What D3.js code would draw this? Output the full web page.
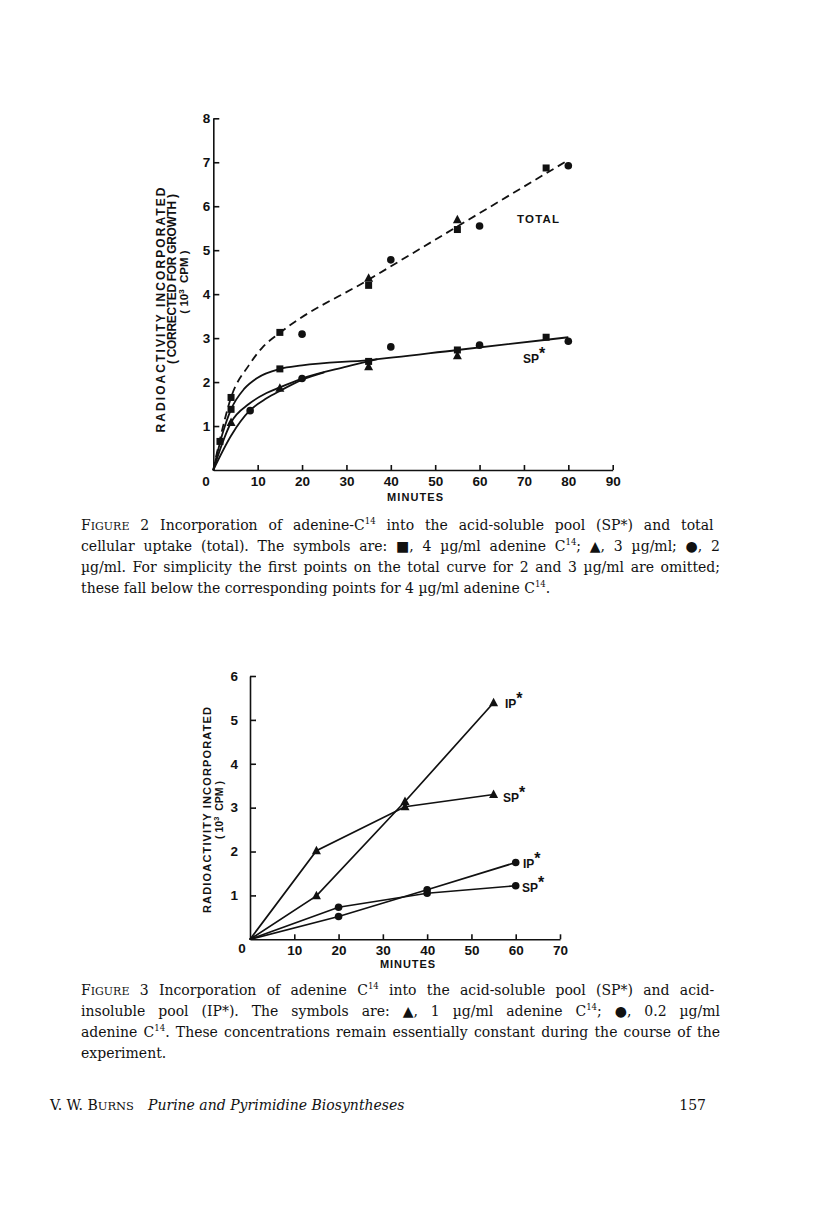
<!DOCTYPE html>
<html><head><meta charset="utf-8">
<script src="https://cdn.jsdelivr.net/npm/d3@7"></script>
<style>
body{margin:0;background:#fff}
text{fill:#111}
.chart text{font-family:"Liberation Sans",Arial,sans-serif;font-weight:bold}
.cap{font-family:"DejaVu Serif",serif;font-size:14px}
</style>
</head><body>
<svg id="page" width="816" height="1229" xmlns="http://www.w3.org/2000/svg"></svg>
<script>
// ---------------- Figure 2 data ----------------
const fig2XTicks = [10, 20, 30, 40, 50, 60, 70, 80, 90];
const fig2YTicks = [1, 2, 3, 4, 5, 6, 7, 8];
// markers: ■ 4 µg/ml, ▲ 3 µg/ml, ● 2 µg/ml
const sqTotalMin = [1.5, 4, 15, 35, 55, 75];
const sqTotalVal = [0.65, 1.65, 3.13, 4.2, 5.47, 6.87];
const sqSpMin = [4, 15, 35, 55, 75];
const sqSpVal = [1.38, 2.3, 2.47, 2.73, 3.02];
const triTotalMin = [35, 55];
const triTotalVal = [4.36, 5.69];
const triSpMin = [4, 15, 35, 55];
const triSpVal = [1.08, 1.86, 2.35, 2.6];
const cirTotalMin = [20, 40, 60, 80];
const cirTotalVal = [3.09, 4.78, 5.55, 6.92];
const cirSpMin = [8.3, 20, 40, 60, 80];
const cirSpVal = [1.35, 2.08, 2.8, 2.84, 2.93];
// hand-drawn fitted curves (knots)
const totalCurveMin = [0, 1.5, 4, 8, 11, 15, 35, 55, 80];
const totalCurveVal = [0, 0.7, 1.65, 2.38, 2.78, 3.12, 4.33, 5.54, 7.05];
const spSqCurveMin = [0, 2, 4, 7, 10, 15, 20, 35, 55, 80];
const spSqCurveVal = [0, 0.8, 1.38, 1.85, 2.1, 2.3, 2.38, 2.5, 2.73, 3.02];
const spTriCurveMin = [0, 2, 4, 8, 12, 15, 20, 30, 37];
const spTriCurveVal = [0, 0.6, 1.08, 1.5, 1.75, 1.88, 2.08, 2.35, 2.52];
const spCirCurveMin = [0, 4, 8.3, 12, 15, 20, 25];
const spCirCurveVal = [0, 0.78, 1.36, 1.63, 1.8, 2.05, 2.22];

// ---------------- Figure 3 data ----------------
const fig3XTicks = [10, 20, 30, 40, 50, 60, 70];
const fig3YTicks = [1, 2, 3, 4, 5, 6];
const triIpMin = [0, 15, 35, 55];
const triIpVal = [0, 0.99, 3.14, 5.39];
const triSp3Min = [0, 15, 35, 55];
const triSp3Val = [0, 2.02, 3.02, 3.3];
const cirIpMin = [0, 20, 40, 60];
const cirIpVal = [0, 0.52, 1.13, 1.75];
const cirSp3Min = [0, 20, 40, 60];
const cirSp3Val = [0, 0.73, 1.05, 1.22];

// ---------------- Captions ----------------
const cap2Lines = [
  [["F"],["IGURE","sc"],[" 2  Incorporation of adenine-C"],["14","sup"],[" into the acid-soluble pool (SP*) and total"]],
  [["cellular uptake (total). The symbols are: ■, 4 µg/ml adenine C"],["14","sup"],["; ▲, 3 µg/ml; ●, 2"]],
  [["µg/ml. For simplicity the first points on the total curve for 2 and 3 µg/ml are omitted;"]],
  [["these fall below the corresponding points for 4 µg/ml adenine C"],["14","sup"],["."]]
];
const cap3Lines = [
  [["F"],["IGURE","sc"],[" 3  Incorporation of adenine C"],["14","sup"],[" into the acid-soluble pool (SP*) and acid-"]],
  [["insoluble pool (IP*). The symbols are: ▲, 1 µg/ml adenine C"],["14","sup"],["; ●, 0.2 µg/ml"]],
  [["adenine C"],["14","sup"],[". These concentrations remain essentially constant during the course of the"]],
  [["experiment."]]
];

const svg = d3.select("#page");
const chart = svg.append("g").attr("class","chart");

function zip(a,b){return a.map((v,i)=>[v,b[i]]);}

function drawAxes(g, x, y, xt, yt, ylabPad){
  const ax = g.append("g").attr("transform",`translate(0,${y.range()[0]})`)
    .call(d3.axisBottom(x).tickValues(xt).tickSizeInner(-5).tickSizeOuter(0).tickPadding(6).tickFormat(d3.format("d")));
  const ay = g.append("g").attr("transform",`translate(${x.range()[0]},0)`)
    .call(d3.axisLeft(y).tickValues(yt).tickSizeInner(-6).tickSizeOuter(0).tickPadding(ylabPad).tickFormat(d3.format("d")));
  [ax,ay].forEach(a=>{
    a.selectAll("path,line").attr("stroke","#111").attr("stroke-width",1.6);
    a.selectAll("text").attr("font-size",13.5).attr("font-family","'Liberation Sans',Arial,sans-serif").attr("font-weight","bold").attr("fill","#111");
  });
  g.append("line").attr("x1",x.range()[0]-0.8).attr("x2",x.range()[0]+1).attr("y1",y.range()[0]).attr("y2",y.range()[0]).attr("stroke","#111").attr("stroke-width",1.6);
}

function marker(g, type, px, py){
  if(type==="sq") g.append("rect").attr("x",px-3.5).attr("y",py-3.5).attr("width",7).attr("height",7).attr("fill","#111");
  else if(type==="tri") g.append("path").attr("d",`M${px},${py-5}L${px+4.5},${py+3.5}L${px-4.5},${py+3.5}Z`).attr("fill","#111");
  else g.append("circle").attr("cx",px).attr("cy",py).attr("r",3.8).attr("fill","#111");
}

function starLabel(g, txt, px, py, fs){
  const t = g.append("text").attr("x",px).attr("y",py).attr("font-size",fs);
  t.append("tspan").text(txt);
  t.append("tspan").attr("dy",-4).attr("font-size",fs+4).text("*");
}

function rotLabel(g, cx, cy, fs, len, parts){
  const t = g.append("text").attr("transform",`translate(${cx},${cy}) rotate(-90)`).attr("text-anchor","middle").attr("font-size",fs);
  parts.forEach(([s,k])=>{
    const ts = t.append("tspan").text(s);
    if(k==="sup") ts.attr("dy",-4).attr("font-size",fs*0.7);
    else if(k==="down") ts.attr("dy",4);
  });
  if(len) t.attr("textLength",len).attr("lengthAdjust","spacing");
}

// ================= Figure 2 =================
{
  const x = d3.scaleLinear().domain([0,90]).range([213.3,612.7]);
  const y = d3.scaleLinear().domain([0,8]).range([470,118.3]);
  const g = chart.append("g");
  drawAxes(g, x, y, fig2XTicks, fig2YTicks, 3);
  g.append("text").attr("x",206).attr("y",485.5).attr("text-anchor","middle").attr("font-size",13.5).text("0");
  g.append("text").attr("x",415).attr("y",501).attr("text-anchor","middle").attr("font-size",11)
    .attr("textLength",56).attr("lengthAdjust","spacing").text("MINUTES");
  rotLabel(g,164.5,310,12,245,[["RADIOACTIVITY  INCORPORATED"]]);
  rotLabel(g,176,279,12,170,[["( CORRECTED  FOR  GROWTH )"]]);
  rotLabel(g,187.5,282,11.5,null,[["( 10"],["3","sup"],["\u00A0 CPM )","down"]]);
  const line = d3.line().x(d=>x(d[0])).y(d=>y(d[1])).curve(d3.curveMonotoneX);
  g.append("path").attr("d",line(zip(totalCurveMin,totalCurveVal))).attr("fill","none").attr("stroke","#111")
    .attr("stroke-width",1.8).attr("stroke-dasharray","8,5");
  [[spSqCurveMin,spSqCurveVal],[spTriCurveMin,spTriCurveVal],[spCirCurveMin,spCirCurveVal]].forEach(([a,b])=>{
    g.append("path").attr("d",line(zip(a,b))).attr("fill","none").attr("stroke","#111").attr("stroke-width",1.8);
  });
  const sets = [["sq",sqTotalMin,sqTotalVal],["sq",sqSpMin,sqSpVal],["tri",triTotalMin,triTotalVal],["tri",triSpMin,triSpVal],
                ["cir",cirTotalMin,cirTotalVal],["cir",cirSpMin,cirSpVal]];
  sets.forEach(([t,a,b])=>a.forEach((m,i)=>marker(g,t,x(m),y(b[i]))));
  g.append("text").attr("x",517).attr("y",223).attr("font-size",11.5).attr("textLength",42).attr("lengthAdjust","spacing").text("TOTAL");
  starLabel(g,"SP",523,363,12);
}

// ================= Figure 3 =================
{
  const x = d3.scaleLinear().domain([0,70]).range([250,560]);
  const y = d3.scaleLinear().domain([0,6]).range([939.3,676]);
  const g = chart.append("g");
  drawAxes(g, x, y, fig3XTicks, fig3YTicks, 12);
  g.append("text").attr("x",242).attr("y",953).attr("text-anchor","middle").attr("font-size",13.5).text("0");
  g.append("text").attr("x",407.5).attr("y",968).attr("text-anchor","middle").attr("font-size",11)
    .attr("textLength",55).attr("lengthAdjust","spacing").text("MINUTES");
  rotLabel(g,211,810,11,206,[["RADIOACTIVITY  INCORPORATED"]]);
  rotLabel(g,222.5,810,10.5,null,[["( 10"],["3","sup"],["\u00A0 CPM )","down"]]);
  const line = d3.line().x(d=>x(d[0])).y(d=>y(d[1]));
  const sets = [["tri",triIpMin,triIpVal],["tri",triSp3Min,triSp3Val],["cir",cirIpMin,cirIpVal],["cir",cirSp3Min,cirSp3Val]];
  sets.forEach(([t,a,b])=>{
    g.append("path").attr("d",line(zip(a,b))).attr("fill","none").attr("stroke","#111").attr("stroke-width",1.7);
    a.forEach((m,i)=>{ if(m>0) marker(g,t,x(m),y(b[i])); });
  });
  starLabel(g,"IP",505,708,12);
  starLabel(g,"SP",503,802,12);
  starLabel(g,"IP",523,868,12);
  starLabel(g,"SP",522,892,12);
}

// ================= Captions & footer =================
function caption(lines, left, right, base0, lh){
  lines.forEach((segs,i)=>{
    const t = svg.append("text").attr("class","cap").attr("x",left).attr("y",base0+i*lh);
    segs.forEach(([s,k],j)=>{
      const ts = t.append("tspan").text(s);
      if(k==="sc") ts.attr("font-size",11);
      if(k==="sup") ts.attr("font-size",8.5).attr("dy",-6);
      const prev = segs[j-1];
      if(prev && prev[1]==="sup" && k!=="sup") ts.attr("dy",6);
    });
    if(i<lines.length-1){
      const natural = t.node().getComputedTextLength();
      const nSp = segs.map(s=>s[0]).join("").split(" ").length-1;
      t.attr("word-spacing",((right-left)-natural)/nSp);
    }
  });
}
caption(cap2Lines, 81, 720, 530, 21);
caption(cap3Lines, 81, 720, 995, 21);

{
  const t = svg.append("text").attr("class","cap").attr("x",50).attr("y",1110).attr("font-size",15);
  t.append("tspan").text("V. W. B");
  t.append("tspan").attr("font-size",11.5).text("URNS");
  t.append("tspan").attr("font-style","italic").attr("dx",14).text("Purine and Pyrimidine Biosyntheses");
  svg.append("text").attr("class","cap").attr("x",706).attr("y",1110).attr("text-anchor","end").attr("font-size",15).text("157");
}
</script>
</body></html>
